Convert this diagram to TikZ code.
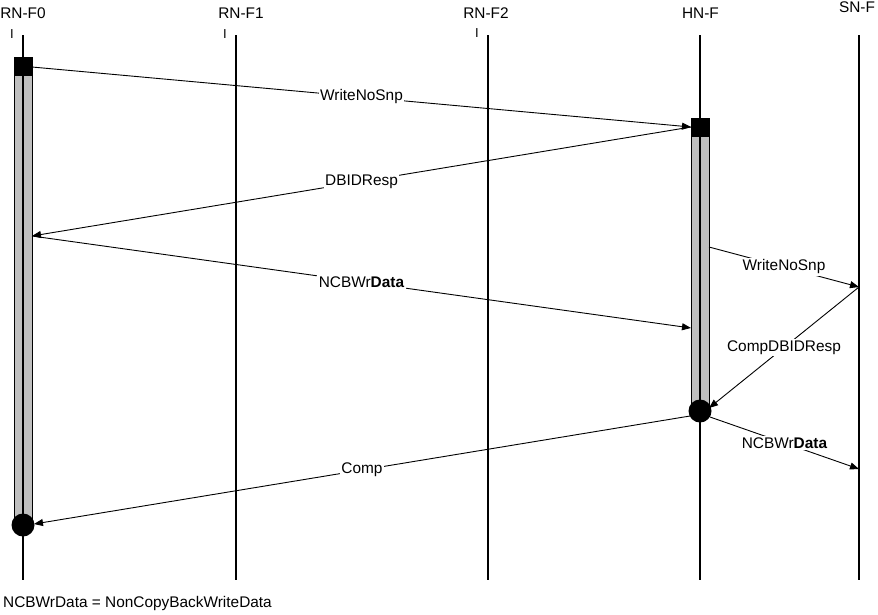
\documentclass[tikz,border=0pt]{standalone}
\usepackage{fontspec}
\setmainfont{Liberation Sans}
\usetikzlibrary{arrows.meta}
\begin{document}
\begin{tikzpicture}[x=1pt,y=-1pt,
  life/.style={line width=2pt},
  msg/.style={line width=0.9pt,-{Triangle[length=9pt,width=7pt]}},
  lbl/.style={fill=white,inner sep=1.5pt,font=\fontsize{15.4}{18}\selectfont},
  hdr/.style={inner sep=0pt,font=\fontsize{15.4}{18}\selectfont},
  tickmark/.style={inner sep=0pt,font=\fontsize{13}{15}\selectfont},
  bar/.style={draw=black,fill=black!25,line width=0.8pt,inner sep=0pt,minimum width=18pt},
  blk/.style={draw=black,fill=black,inner sep=0pt,minimum width=18pt,minimum height=18pt},
  dot/.style={circle,fill=black,inner sep=0pt,minimum size=23pt}]
\useasboundingbox (0,0) rectangle (878,614);
% headers
\node[hdr] (h0) at (23,13) {RN-F0};
\node[hdr] (h1) at (241,13) {RN-F1};
\node[hdr] (h2) at (486,13) {RN-F2};
\node[hdr] (h3) at (700.5,13) {HN-F};
\node[hdr] (h4) at (857,7) {SN-F};
\node[tickmark] (i0) at (12,34) {I};
\node[tickmark] (i1) at (225,34) {I};
\node[tickmark] (i2) at (477,33) {I};
% lifeline ends
\coordinate (t0) at (22.5,35); \coordinate (b0) at (22.5,580);
\coordinate (t1) at (236,35);  \coordinate (b1) at (236,580);
\coordinate (t2) at (488,35);  \coordinate (b2) at (488,580);
\coordinate (t3) at (700,35);  \coordinate (b3) at (700,580);
\coordinate (t4) at (859,35);  \coordinate (b4) at (859,580);
% activation bars
\node[bar,minimum height=450pt] (bar0) at (23,300) {};
\node[bar,minimum height=276pt] (bar1) at (700,273) {};
\draw[life] (t0) -- (b0);
\draw[life] (t1) -- (b1);
\draw[life] (t2) -- (b2);
\draw[life] (t3) -- (b3);
\draw[life] (t4) -- (b4);
\node[blk] (sq0) at (23,66.5) {};
\node[blk] (sq1) at (700,127) {};
\node[dot] (c0) at (23,525) {};
\node[dot] (c1) at (700,411) {};
% message end points
\coordinate (m1s) at (32,67);   \coordinate (m1e) at (691,127);
\coordinate (m2s) at (691,127); \coordinate (m2e) at (32,236);
\coordinate (m3s) at (32,236);  \coordinate (m3e) at (691,328);
\coordinate (m4s) at (709,247); \coordinate (m4e) at (859,287);
\coordinate (m5s) at (859,287); \coordinate (m5e) at (709,408);
\coordinate (m6s) at (710,417); \coordinate (m6e) at (859,469);
\coordinate (m7s) at (690,416); \coordinate (m7e) at (34,524);
% messages
\draw[msg] (m1s) -- node[lbl] {WriteNoSnp} (m1e);
\draw[msg] (m2s) -- node[lbl] {DBIDResp} (m2e);
\draw[msg] (m3s) -- node[lbl] {NCBWr\textbf{Data}} (m3e);
\draw[msg] (m4s) -- node[lbl] {WriteNoSnp} (m4e);
\draw[msg] (m5s) -- node[lbl] {CompDBIDResp} (m5e);
\draw[msg] (m6s) -- node[lbl] {NCBWr\textbf{Data}} (m6e);
\draw[msg] (m7s) -- node[lbl] {Comp} (m7e);
% footnote
\node[hdr,anchor=west] (note) at (3,604) {NCBWrData = NonCopyBackWriteData};
\end{tikzpicture}
\end{document}
